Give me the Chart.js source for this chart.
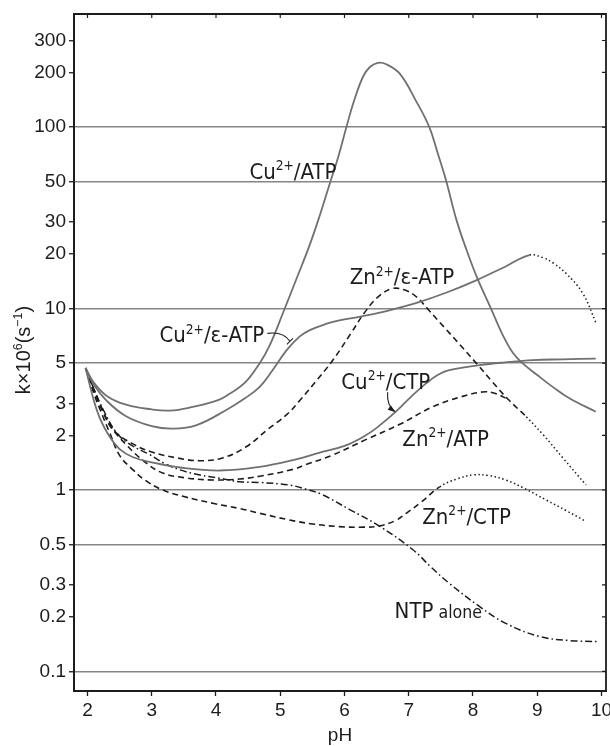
<!DOCTYPE html>
<html>
<head>
<meta charset="utf-8">
<script src="https://cdn.jsdelivr.net/npm/chart.js@4.4.1/dist/chart.umd.min.js"></script>
<style>
  html, body { margin: 0; padding: 0; background: #fff; }
</style>
</head>
<body>
<canvas id="rates" width="610" height="746"></canvas>
<script>
// axis ticks
const xTicks = [2, 3, 4, 5, 6, 7, 8, 9, 10];
const yTicks = [0.1, 0.2, 0.3, 0.5, 1, 2, 3, 5, 10, 20, 30, 50, 100, 200, 300];
const yGridValues = [0.1, 0.5, 1, 5, 10, 50, 100];

// k x 10^6 (s^-1) against pH for each system
const cuAtpPH = [1.97, 2.1, 2.3, 2.6, 3.0, 3.28, 3.6, 4.0, 4.16, 4.45, 4.68, 4.83, 5.05, 5.25, 5.46, 5.62, 5.78, 5.9, 6.03, 6.15, 6.29, 6.4, 6.52, 6.65, 6.86, 7.11, 7.32, 7.45, 7.58, 7.74, 7.9, 8.07, 8.28, 8.45, 8.62, 8.77, 9.0, 9.24, 9.5, 9.91];
const cuAtpK  = [4.7, 3.9, 3.3, 2.95, 2.78, 2.74, 2.85, 3.1, 3.3, 3.9, 5.0, 6.2, 9.6, 14.5, 22.5, 33, 50, 68, 100, 140, 190, 215, 226, 222, 197, 140, 100, 72, 51, 31, 21, 14.6, 10, 7.3, 5.7, 5.0, 4.3, 3.7, 3.2, 2.7];

const cuEAtpPH = [1.97, 2.1, 2.3, 2.6, 3.0, 3.33, 3.7, 4.16, 4.45, 4.68, 4.88, 5.1, 5.3, 5.46, 5.7, 5.92, 6.23, 6.55, 6.8, 7.11, 7.6, 8.05, 8.5, 8.88, 9.1, 9.25, 9.45, 9.71, 9.91];
const cuEAtpK  = [4.7, 3.8, 3.1, 2.55, 2.25, 2.18, 2.28, 2.76, 3.2, 3.7, 4.57, 5.9, 7.0, 7.6, 8.2, 8.6, 9.0, 9.5, 10.0, 10.7, 12.3, 14.3, 17.0, 19.7, 19.0, 17.8, 15.6, 12.1, 8.4];
const cuEAtpDottedFrom = 8.88;

const cuCtpPH = [1.97, 2.1, 2.2, 2.35, 2.5, 2.7, 3.0, 3.44, 4.06, 4.68, 5.2, 5.6, 6.0, 6.3, 6.5, 6.8, 7.05, 7.27, 7.45, 7.63, 8.1, 8.5, 8.93, 9.4, 9.91];
const cuCtpK  = [4.7, 3.1, 2.45, 1.95, 1.68, 1.52, 1.42, 1.33, 1.28, 1.34, 1.46, 1.6, 1.75, 1.97, 2.2, 2.7, 3.3, 3.87, 4.3, 4.57, 4.87, 5.05, 5.2, 5.25, 5.3];

const znEAtpPH = [1.97, 2.1, 2.25, 2.4, 2.7, 3.0, 3.4, 3.75, 4.1, 4.47, 4.8, 5.1, 5.3, 5.55, 5.82, 6.1, 6.34, 6.55, 6.75, 6.95, 7.12, 7.3, 7.55, 7.8, 8.05, 8.3, 8.55, 8.83, 9.1, 9.4, 9.76];
const znEAtpK  = [4.7, 3.5, 2.65, 2.14, 1.8, 1.62, 1.5, 1.45, 1.5, 1.73, 2.15, 2.6, 3.1, 3.95, 5.2, 7.3, 9.8, 11.8, 12.9, 12.6, 11.6, 9.9, 7.9, 6.3, 5.0, 3.95, 3.15, 2.53, 2.0, 1.5, 1.065];
const znEAtpDottedFrom = 8.83;

const znAtpPH = [1.97, 2.1, 2.2, 2.36, 2.6, 2.9, 3.17, 3.5, 3.95, 4.37, 4.68, 5.2, 5.4, 5.8, 6.34, 6.86, 7.37, 7.8, 8.15, 8.35, 8.55];
const znAtpK  = [4.7, 3.6, 2.95, 2.25, 1.78, 1.42, 1.24, 1.17, 1.135, 1.15, 1.19, 1.3, 1.38, 1.55, 1.9, 2.3, 2.87, 3.25, 3.47, 3.4, 3.15];

const znCtpPH = [1.97, 2.1, 2.2, 2.35, 2.5, 2.7, 2.9, 3.17, 3.5, 3.95, 4.37, 4.68, 5.14, 5.5, 5.92, 6.3, 6.54, 6.8, 6.96, 7.2, 7.48, 7.75, 8.0, 8.25, 8.51, 8.8, 9.14, 9.45, 9.76];
const znCtpK  = [4.7, 3.4, 2.75, 2.05, 1.55, 1.3, 1.13, 1.0, 0.92, 0.845, 0.79, 0.744, 0.684, 0.65, 0.628, 0.624, 0.633, 0.68, 0.744, 0.86, 1.04, 1.15, 1.21, 1.2, 1.135, 1.02, 0.88, 0.77, 0.67];
const znCtpDottedFrom = 7.48;

const ntpPH = [1.97, 2.1, 2.25, 2.46, 2.7, 2.95, 3.2, 3.44, 3.75, 4.06, 4.37, 4.68, 5.14, 5.4, 5.66, 6.08, 6.54, 7.06, 7.35, 7.63, 8.1, 8.51, 9.03, 9.5, 9.97];
const ntpK  = [4.7, 3.6, 2.75, 2.05, 1.75, 1.58, 1.4, 1.29, 1.21, 1.16, 1.11, 1.1, 1.065, 1.01, 0.94, 0.78, 0.633, 0.47, 0.375, 0.306, 0.228, 0.184, 0.156, 0.148, 0.146];

const SOLID = '#707070';
const INK = '#1c1c1c';
const DOT = [1.5, 2.6];
const labelFamily = '"Liberation Sans Narrow", "DejaVu Sans Condensed", "Liberation Sans", sans-serif';
const tickFamily = '"Liberation Sans", Arial, sans-serif';

const pts = (ph, k) => ph.map((x, i) => ({ x, y: k[i] }));
const dottedAfter = (from) => ({
  borderDash: c => (c.p0.parsed.x >= from - 1e-9 ? DOT : undefined),
  borderColor: c => (c.p0.parsed.x >= from - 1e-9 ? INK : undefined),
  borderWidth: c => (c.p0.parsed.x >= from - 1e-9 ? 1.5 : undefined)
});

function line(data, style, extra) {
  return Object.assign({
    data,
    pointRadius: 0,
    fill: false,
    tension: 0.4
  }, style, extra || {});
}
const solid = { borderColor: SOLID, borderWidth: 1.8 };
const dashed = { borderColor: INK, borderWidth: 1.6, borderDash: [6, 4] };
const dashDot = { borderColor: INK, borderWidth: 1.5, borderDash: [7, 3, 1.6, 3] };

// curve labels, anchored at (pH, k) of their left baseline
const curveLabels = [
  { at: [4.52, 52], parts: [{ t: 'Cu' }, { t: '2+', sup: true }, { t: '/ATP' }] },
  { at: [3.12, 6.5], parts: [{ t: 'Cu' }, { t: '2+', sup: true }, { t: '/ε-ATP' }] },
  { at: [6.08, 13.6], parts: [{ t: 'Zn' }, { t: '2+', sup: true }, { t: '/ε-ATP' }] },
  { at: [5.95, 3.6], parts: [{ t: 'Cu' }, { t: '2+', sup: true }, { t: '/CTP' }] },
  { at: [6.9, 1.75], parts: [{ t: 'Zn' }, { t: '2+', sup: true }, { t: '/ATP' }] },
  { at: [7.21, 0.65], parts: [{ t: 'Zn' }, { t: '2+', sup: true }, { t: '/CTP' }] },
  { at: [6.78, 0.197], parts: [{ t: 'NTP' }, { t: ' alone', small: true }] }
];

function drawRich(ctx, parts, px, py, size, family) {
  let cx = px;
  for (const p of parts) {
    const s = p.sup ? size * 0.62 : p.small ? size * 0.8 : size;
    ctx.font = `${s}px ${family}`;
    ctx.fillText(p.t, cx, py + (p.sup ? -size * 0.4 : 0));
    cx += ctx.measureText(p.t).width;
  }
  return cx - px;
}
function richWidth(ctx, parts, size, family) {
  let w = 0;
  for (const p of parts) {
    const s = p.sup ? size * 0.62 : p.small ? size * 0.8 : size;
    ctx.font = `${s}px ${family}`;
    w += ctx.measureText(p.t).width;
  }
  return w;
}

const annotate = {
  id: 'annotate',
  afterDraw(chart) {
    const { ctx, chartArea: a, scales: { x, y } } = chart;
    ctx.save();

    // frame: top and right edges with inward ticks
    ctx.strokeStyle = INK;
    ctx.lineWidth = 1.8;
    ctx.beginPath();
    ctx.moveTo(a.left - 1, a.top);
    ctx.lineTo(a.right, a.top);
    ctx.lineTo(a.right, a.bottom + 1);
    ctx.stroke();
    ctx.lineWidth = 1.2;
    ctx.beginPath();
    for (const v of xTicks) {
      const px = x.getPixelForValue(v);
      if (px < a.right - 2) { ctx.moveTo(px, a.top); ctx.lineTo(px, a.top + 4); }
    }
    for (const v of yTicks) {
      const py = y.getPixelForValue(v);
      ctx.moveTo(a.right, py); ctx.lineTo(a.right - 4, py);
    }
    ctx.stroke();

    // curve labels
    ctx.fillStyle = INK;
    ctx.textBaseline = 'alphabetic';
    ctx.textAlign = 'left';
    for (const l of curveLabels) {
      drawRich(ctx, l.parts, x.getPixelForValue(l.at[0]), y.getPixelForValue(l.at[1]), 22, labelFamily);
    }

    // leader from Cu2+/eps-ATP label to its curve
    const P = (ph, k) => [x.getPixelForValue(ph), y.getPixelForValue(k)];
    ctx.lineWidth = 1.1;
    let s = P(4.8, 7.3), c = P(5.05, 7.5), e = P(5.15, 6.6);
    ctx.beginPath();
    ctx.moveTo(s[0], s[1]);
    ctx.quadraticCurveTo(c[0], c[1], e[0], e[1]);
    ctx.stroke();
    ctx.beginPath();
    ctx.moveTo(e[0] - 3, e[1] + 3);
    ctx.lineTo(e[0] + 3, e[1] - 3);
    ctx.stroke();

    // arrow from Cu2+/CTP label to its curve
    s = P(6.67, 3.46); c = P(6.66, 2.9); e = P(6.78, 2.72);
    ctx.beginPath();
    ctx.moveTo(s[0], s[1]);
    ctx.quadraticCurveTo(c[0], c[1], e[0], e[1]);
    ctx.stroke();
    const ang = Math.atan2(e[1] - c[1], e[0] - c[0]);
    ctx.beginPath();
    ctx.moveTo(e[0] + 1, e[1] + 1);
    ctx.lineTo(e[0] - 7 * Math.cos(ang - 0.4), e[1] - 7 * Math.sin(ang - 0.4));
    ctx.lineTo(e[0] - 7 * Math.cos(ang + 0.4), e[1] - 7 * Math.sin(ang + 0.4));
    ctx.closePath();
    ctx.fill();

    // y axis title
    const title = [{ t: 'k\u00d710' }, { t: '6', sup: true }, { t: '(s' }, { t: '\u22121', sup: true }, { t: ')' }];
    const tw = richWidth(ctx, title, 20, tickFamily);
    ctx.translate(30, 350);
    ctx.rotate(-Math.PI / 2);
    drawRich(ctx, title, -tw / 2, 0, 20, tickFamily);
    ctx.restore();
  }
};

new Chart(document.getElementById('rates'), {
  type: 'line',
  data: {
    datasets: [
      line(pts(cuAtpPH, cuAtpK), solid),
      line(pts(cuEAtpPH, cuEAtpK), solid, { segment: dottedAfter(cuEAtpDottedFrom) }),
      line(pts(cuCtpPH, cuCtpK), solid),
      line(pts(znEAtpPH, znEAtpK), dashed, { segment: dottedAfter(znEAtpDottedFrom) }),
      line(pts(znAtpPH, znAtpK), dashed),
      line(pts(znCtpPH, znCtpK), dashed, { segment: dottedAfter(znCtpDottedFrom) }),
      line(pts(ntpPH, ntpK), dashDot)
    ]
  },
  options: {
    responsive: false,
    animation: false,
    devicePixelRatio: 1,
    layout: { padding: { left: 0, top: 14, right: 4, bottom: 0 } },
    plugins: { legend: { display: false }, tooltip: { enabled: false } },
    scales: {
      x: {
        type: 'linear',
        min: 1.79,
        max: 10.07,
        afterBuildTicks: s => { s.ticks = xTicks.map(v => ({ value: v })); },
        afterFit: s => { s.height = 55; s.paddingLeft = 0; s.paddingRight = 0; },
        ticks: {
          autoSkip: false,
          maxRotation: 0,
          padding: 3,
          color: INK,
          font: { family: tickFamily, size: 19 },
          callback: v => String(v)
        },
        grid: { drawOnChartArea: false, drawTicks: true, tickLength: 5, tickColor: INK, tickWidth: 1.3 },
        border: { display: true, color: INK, width: 2 },
        title: {
          display: true,
          text: 'pH',
          color: INK,
          font: { family: tickFamily, size: 19 },
          padding: { top: 0, bottom: -1 }
        }
      },
      y: {
        type: 'logarithmic',
        min: 0.078,
        max: 420,
        afterBuildTicks: s => { s.ticks = yTicks.map(v => ({ value: v })); },
        afterFit: s => { s.width = 74; s.paddingTop = 0; s.paddingBottom = 0; },
        ticks: {
          autoSkip: false,
          padding: 3,
          color: INK,
          font: { family: tickFamily, size: 19 },
          callback: v => String(v)
        },
        grid: {
          color: c => (c.tick && yGridValues.includes(c.tick.value) ? '#858585' : 'rgba(0,0,0,0)'),
          lineWidth: 1.5,
          drawTicks: true,
          tickLength: 5,
          tickColor: INK,
          tickWidth: 1.3
        },
        border: { display: true, color: INK, width: 2 }
      }
    }
  },
  plugins: [annotate]
});
</script>
</body>
</html>
